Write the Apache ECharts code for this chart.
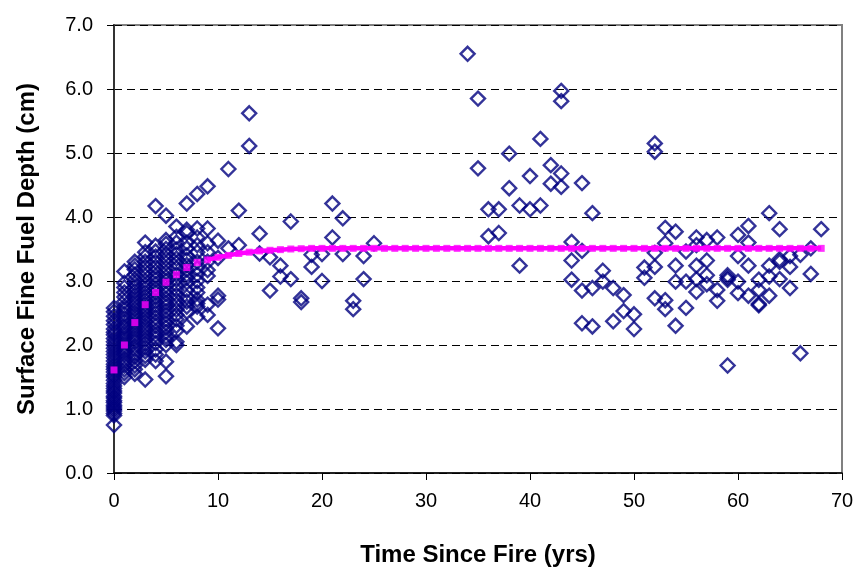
<!DOCTYPE html>
<html><head><meta charset="utf-8">
<script src="https://cdn.jsdelivr.net/npm/echarts@6/dist/echarts.min.js"></script>
<style>html,body{margin:0;padding:0;background:#fff}#c{width:858px;height:577px}</style>
</head><body><div id="c"></div>
<script>
// Early years (0-10): depths observed at each year
const earlyYears = [0, 1, 2, 3, 4, 5, 6, 7, 8, 9, 10];
const earlyDepths = [
  [0.75,0.9,0.93,0.97,1.0,1.03,1.06,1.1,1.13,1.17,1.2,1.25,1.28,1.32,1.36,1.4,1.45,1.5,1.53,1.58,1.62,1.66,1.7,1.75,1.8,1.85,1.9,1.95,2.0,2.05,2.1,2.16,2.2,2.25,2.32,2.38,2.45,2.52,2.58],
  [1.5,1.56,1.62,1.68,1.73,1.78,1.85,1.9,1.95,2.0,2.05,2.1,2.15,2.2,2.26,2.3,2.36,2.42,2.48,2.55,2.6,2.68,2.75,2.82,2.9,2.97,3.15],
  [1.55,1.62,1.68,1.75,1.82,1.87,1.93,1.98,2.05,2.1,2.15,2.2,2.25,2.3,2.35,2.4,2.45,2.5,2.56,2.62,2.67,2.72,2.78,2.84,2.9,2.96,3.02,3.1,3.18,3.24,3.3],
  [1.46,1.77,1.83,1.9,1.96,2.02,2.08,2.14,2.2,2.25,2.3,2.36,2.42,2.48,2.53,2.58,2.64,2.7,2.76,2.82,2.88,2.94,3.0,3.08,3.15,3.22,3.3,3.38,3.45,3.6],
  [1.75,1.85,1.93,2.03,2.1,2.16,2.22,2.3,2.36,2.43,2.5,2.56,2.62,2.68,2.75,2.82,2.88,2.95,3.02,3.08,3.15,3.22,3.3,3.38,3.46,3.55,4.17],
  [1.51,1.74,2.0,2.08,2.13,2.2,2.27,2.34,2.4,2.47,2.53,2.6,2.66,2.72,2.8,2.86,2.93,3.0,3.06,3.13,3.2,3.28,3.35,3.42,3.5,3.58,3.64,4.02],
  [2.0,2.05,2.22,2.3,2.4,2.47,2.55,2.63,2.7,2.78,2.86,2.94,3.02,3.1,3.2,3.28,3.35,3.42,3.49,3.6,3.69,3.85],
  [2.29,2.52,2.6,2.68,2.75,2.85,2.98,3.05,3.1,3.18,3.25,3.33,3.4,3.51,3.6,3.75,3.8,4.21],
  [2.44,2.6,2.65,2.71,2.82,2.9,3.0,3.1,3.2,3.3,3.45,3.56,3.68,3.82,4.36],
  [2.47,2.63,3.08,3.17,3.3,3.45,3.59,3.82,4.48],
  [2.26,2.71,2.77,3.36,3.63]
];
// Years 11-25: [year, depth]
const midPoints = [
  [11,4.75],[11,3.51],[12,4.10],[12,3.56],[13,5.62],[13,5.11],[14,3.74],[14,3.43],
  [15,3.37],[15,2.85],[16,3.24],[16,3.07],[17,3.93],[17,3.03],[18,2.73],[18,2.67],
  [19,3.41],[19,3.22],[20,3.42],[20,3.00],[21,4.21],[21,3.68],[22,3.98],[22,3.42],
  [23,2.69],[23,2.56],[24,3.39],[24,3.03],[25,3.59]
];
// Years 34-68: [year, depth]
const latePoints = [
  [34,6.55],[35,5.85],[35,4.76],[36,4.12],[36,3.70],[37,4.12],[37,3.75],[38,4.99],[38,4.45],
  [39,4.18],[39,3.24],[40,4.64],[40,4.12],[41,5.22],[41,4.18],[42,4.81],[42,4.52],
  [43,5.97],[43,5.81],[43,4.68],[43,4.47],[44,3.61],[44,3.32],[44,3.02],
  [45,4.53],[45,3.47],[45,2.85],[45,2.34],[46,4.06],[46,2.89],[46,2.29],[47,3.16],[47,2.99],
  [48,2.89],[48,2.37],[49,2.78],[49,2.53],[50,2.48],[50,2.25],[51,3.21],[51,3.05],
  [52,5.15],[52,5.02],[52,3.44],[52,3.22],[52,2.73],[53,3.83],[53,3.59],[53,2.70],[53,2.56],
  [54,3.77],[54,3.24],[54,2.99],[54,2.30],[55,3.46],[55,2.99],[55,2.58],
  [56,3.68],[56,3.56],[56,3.24],[56,3.03],[56,2.83],[57,3.64],[57,3.32],[57,3.09],[57,2.95],
  [58,3.68],[58,2.86],[58,2.69],[59,3.09],[59,3.05],[59,3.02],[59,1.68],
  [60,3.72],[60,3.39],[60,2.99],[60,2.81],[61,3.86],[61,3.60],[61,3.24],[61,2.77],
  [62,3.02],[62,2.86],[62,2.64],[62,2.62],[63,4.06],[63,3.24],[63,3.07],[63,2.77],
  [64,3.81],[64,3.34],[64,3.30],[64,3.03],[65,3.39],[65,3.22],[65,2.89],[66,3.41],[66,1.87],
  [67,3.51],[67,3.11],[68,3.81]
];
// Fitted curve
const curveYears = [0,1,2,3,4,5,6,7,8,9,10,11,12,13,14,15,16,17,18,19,20,21,22,23,24,25,26,27,28,29,30,31,32,33,34,35,36,37,38,39,40,41,42,43,44,45,46,47,48,49,50,51,52,53,54,55,56,57,58,59,60,61,62,63,64,65,66,67,68];
const curveDepths = [1.61,2.00,2.35,2.63,2.82,2.98,3.10,3.21,3.29,3.33,3.37,3.40,3.43,3.45,3.47,3.48,3.49,3.50,3.505,
  3.51,3.51,3.51,3.51,3.51,3.51,3.51,3.51,3.51,3.51,3.51,3.51,3.51,3.51,3.51,3.51,3.51,3.51,3.51,3.51,3.51,
  3.51,3.51,3.51,3.51,3.51,3.51,3.51,3.51,3.51,3.51,3.51,3.51,3.51,3.51,3.51,3.51,3.51,3.51,3.51,3.51,
  3.51,3.51,3.51,3.51,3.51,3.51,3.51,3.51,3.51];
const xTicks = [0,10,20,30,40,50,60,70];
const yTicks = [0,1,2,3,4,5,6,7];

const scatterData = [];
earlyYears.forEach((yr, i) => earlyDepths[i].forEach(d => scatterData.push([yr, d])));
midPoints.forEach(p => scatterData.push(p));
latePoints.forEach(p => scatterData.push(p));
const curveData = curveYears.map((yr, i) => [yr, curveDepths[i]]);
const lineStart = 9;

const FONT = 'Liberation Sans, Arial, sans-serif';
const chart = echarts.init(document.getElementById('c'));
chart.setOption({
  animation: false,
  backgroundColor: '#fff',
  grid: { left: 114, right: 16, top: 25, bottom: 104, show: true, borderColor: '#808080', borderWidth: 2 },
  xAxis: {
    type: 'value', min: xTicks[0], max: xTicks[xTicks.length - 1], interval: 10,
    name: 'Time Since Fire (yrs)', nameLocation: 'middle', nameGap: 70,
    nameTextStyle: { fontFamily: FONT, fontSize: 24, fontWeight: 'bold', color: '#000' },
    axisLine: { show: true, lineStyle: { color: '#000', width: 1.5 } },
    axisTick: { show: true, length: 7, lineStyle: { color: '#000', width: 1 } },
    axisLabel: { fontFamily: FONT, fontSize: 20, color: '#000', margin: 18 },
    splitLine: { show: false }
  },
  yAxis: {
    type: 'value', min: yTicks[0], max: yTicks[yTicks.length - 1], interval: 1,
    name: 'Surface Fine Fuel Depth (cm)', nameLocation: 'middle', nameGap: 75,
    nameTextStyle: { fontFamily: FONT, fontSize: 24, fontWeight: 'bold', color: '#000' },
    axisLine: { show: true, lineStyle: { color: '#333', width: 2 } },
    axisTick: { show: true, length: 7, lineStyle: { color: '#000', width: 1 } },
    axisLabel: { fontFamily: FONT, fontSize: 20, color: '#000', margin: 21, formatter: v => v.toFixed(1) },
    splitLine: { show: true, lineStyle: { color: '#000', width: 1, type: [8, 5] } }
  },
  series: [
    {
      type: 'scatter', data: scatterData, symbol: 'diamond', symbolSize: 14,
      itemStyle: { color: 'rgba(0,0,0,0)', borderColor: '#000080', borderWidth: 2.4 }, z: 2
    },
    {
      type: 'line', data: curveData.slice(lineStart), showSymbol: false, symbol: 'none',
      lineStyle: { color: '#FF00FF', width: 4.5 }, z: 3
    },
    {
      type: 'scatter', data: curveData, symbol: 'rect', symbolSize: 7,
      itemStyle: { color: '#FF00FF' }, z: 4
    }
  ]
});
</script></body></html>
